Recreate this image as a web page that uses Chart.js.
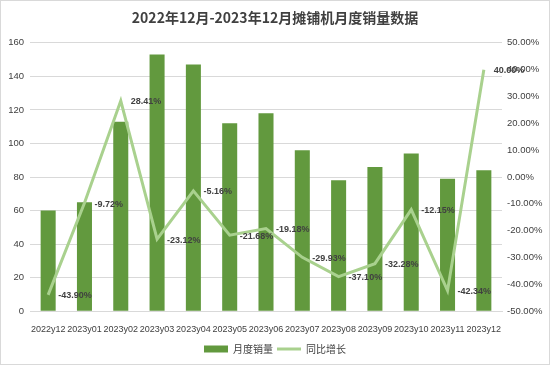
<!DOCTYPE html>
<html>
<head>
<meta charset="utf-8">
<script src="https://cdn.jsdelivr.net/npm/chart.js@4"></script>
<style>
  body { margin: 0; background: #fff; }
  #wrap { width: 548px; height: 363px; border: 1px solid #d9d9d9; }
</style>
</head>
<body>
<div id="wrap"><canvas id="mycanvas" width="548" height="363"></canvas></div>
<script>
var months = ["2022y12","2023y01","2023y02","2023y03","2023y04","2023y05","2023y06","2023y07","2023y08","2023y09","2023y10","2023y11","2023y12"];
var sales = [60, 65, 113, 153, 147, 112, 118, 96, 78, 86, 94, 79, 84];
var growth = [-43.90, -9.72, 28.41, -23.12, -5.16, -21.68, -19.18, -29.93, -37.10, -32.28, -12.15, -42.34, 40.00];

var tickFont = { size: 9.5, family: "'Liberation Sans', sans-serif" };

// labels for the growth line, drawn right of each point
var pointLabels = {
	id: "pointLabels",
	afterDatasetsDraw: function(chart) {
		var ctx = chart.ctx;
		var meta = chart.getDatasetMeta(1);
		ctx.save();
		ctx.font = "bold 9px 'Liberation Sans', sans-serif";
		ctx.fillStyle = "#404040";
		ctx.textBaseline = "middle";
		meta.data.forEach(function(pt, i) {
			ctx.fillText(growth[i].toFixed(2) + "%", pt.x + 10, pt.y + 1);
		});
		ctx.restore();
	}
};

var ctx = document.getElementById("mycanvas");
var chart = new Chart(ctx, {
	data: {
		labels: months,
		datasets: [
			{
				type: "bar",
				label: "月度销量",
				data: sales,
				backgroundColor: "#62993e",
				yAxisID: "y",
				barPercentage: 0.9,
				categoryPercentage: 0.46,
				pointStyle: "rect",
				order: 2
			},
			{
				type: "line",
				label: "同比增长",
				data: growth,
				borderColor: "#a9d18e",
				backgroundColor: "#a9d18e",
				borderWidth: 3,
				pointRadius: 0,
				pointStyle: "line",
				tension: 0,
				yAxisID: "y1",
				order: 1
			}
		]
	},
	options: {
		responsive: false,
		animation: false,
		layout: { padding: { top: 4, left: 0, right: 0, bottom: 0 } },
		plugins: {
			title: {
				display: true,
				text: "2022年12月-2023年12月摊铺机月度销量数据",
				color: "#404040",
				font: { size: 14, weight: "bold", family: "'Noto Sans CJK SC', sans-serif" },
				padding: { top: 4, bottom: 17 }
			},
			legend: {
				position: "bottom",
				labels: {
					color: "#404040",
					font: { size: 10, family: "'Noto Sans CJK SC', serif" },
					usePointStyle: true,
					pointStyleWidth: 24,
					boxHeight: 7,
					padding: 4,
					sort: function(a, b) { return a.datasetIndex - b.datasetIndex; }
				}
			},
			tooltip: { enabled: false }
		},
		scales: {
			x: {
				grid: { display: false },
				border: { color: "#d9d9d9" },
				ticks: { color: "#404040", font: { size: 9, family: "'Liberation Sans', sans-serif" }, maxRotation: 0, autoSkip: false, padding: 5 }
			},
			y: {
				position: "left",
				min: 0, max: 160,
				ticks: { stepSize: 20, color: "#404040", font: tickFont, padding: 6 },
				grid: { color: "#d9d9d9", drawTicks: false },
				border: { display: false },
				afterFit: function(axis) { axis.width = 29; }
			},
			y1: {
				position: "right",
				min: -50, max: 50,
				ticks: {
					stepSize: 10, color: "#404040", font: tickFont, padding: 5,
					callback: function(v) { return v.toFixed(2) + "%"; }
				},
				grid: { display: false, drawTicks: false },
				border: { display: false },
				afterFit: function(axis) { axis.width = 47; }
			}
		}
	},
	plugins: [pointLabels]
});
</script>
</body>
</html>
